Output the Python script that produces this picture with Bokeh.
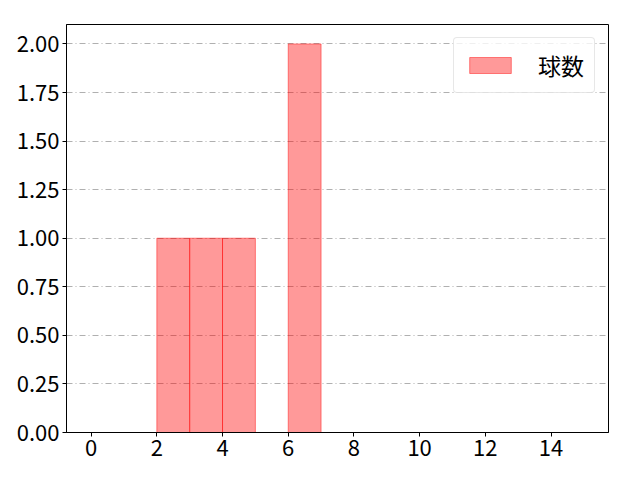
from bokeh.plotting import figure
from bokeh.models import ColumnDataSource, FixedTicker, NumeralTickFormatter, Range1d, Legend, LegendItem
from bokeh.embed import file_html
from bokeh.resources import INLINE

# histogram bins (left edge) and counts
bin_left = [0, 1, 2, 3, 4, 5, 6, 7, 8, 9, 10, 11, 12, 13, 14]
counts = [0, 0, 1, 1, 1, 0, 2, 0, 0, 0, 0, 0, 0, 0, 0]
x_ticks = [0, 2, 4, 6, 8, 10, 12, 14]
y_ticks = [0, 0.25, 0.5, 0.75, 1.0, 1.25, 1.5, 1.75, 2.0]
label = "球数"

FONT = "Noto Sans CJK JP"

src = ColumnDataSource(data=dict(
    left=[b for b, c in zip(bin_left, counts) if c > 0],
    right=[b + 1 for b, c in zip(bin_left, counts) if c > 0],
    top=[c for c in counts if c > 0],
))

p = figure(width=630, height=472, output_backend="svg", toolbar_location=None,
           x_range=Range1d(-0.75, 15.75), y_range=Range1d(0, 2.1),
           min_border_left=66, min_border_right=22, min_border_top=24, min_border_bottom=40)

r = p.quad(left="left", right="right", bottom=0, top="top", source=src,
           fill_color="red", fill_alpha=0.4, line_color="red", line_alpha=0.45, line_width=1)

p.outline_line_color = "black"
p.outline_line_alpha = 1
p.xgrid.grid_line_color = None
p.ygrid.grid_line_color = "#b0b0b0"
p.ygrid.grid_line_dash = "6 3 1 3"

p.xaxis.ticker = FixedTicker(ticks=x_ticks)
p.yaxis.ticker = FixedTicker(ticks=y_ticks)
p.yaxis.formatter = NumeralTickFormatter(format="0.00")
for ax in (p.xaxis[0], p.yaxis[0]):
    ax.major_label_text_font = FONT
    ax.major_label_text_font_size = "22px"
    ax.major_label_text_color = "black"
    ax.minor_tick_line_color = None
    ax.major_tick_in = 0
    ax.major_tick_out = 4
    ax.major_tick_line_color = "black"
    ax.axis_line_color = "black"
    ax.major_label_standoff = 3

legend = Legend(items=[LegendItem(label=label, renderers=[r])], location="top_right")
legend.label_text_font = FONT
legend.label_text_font_size = "23px"
legend.label_text_color = "black"
legend.glyph_width = 52
legend.glyph_height = 20
legend.label_standoff = 22
legend.label_height = 20
legend.margin = 13
legend.padding = 10
legend.border_line_color = "#d0d0d0"
legend.border_radius = 4
legend.background_fill_alpha = 0.8
p.add_layout(legend)

open("out.html", "w").write(file_html(p, INLINE))
